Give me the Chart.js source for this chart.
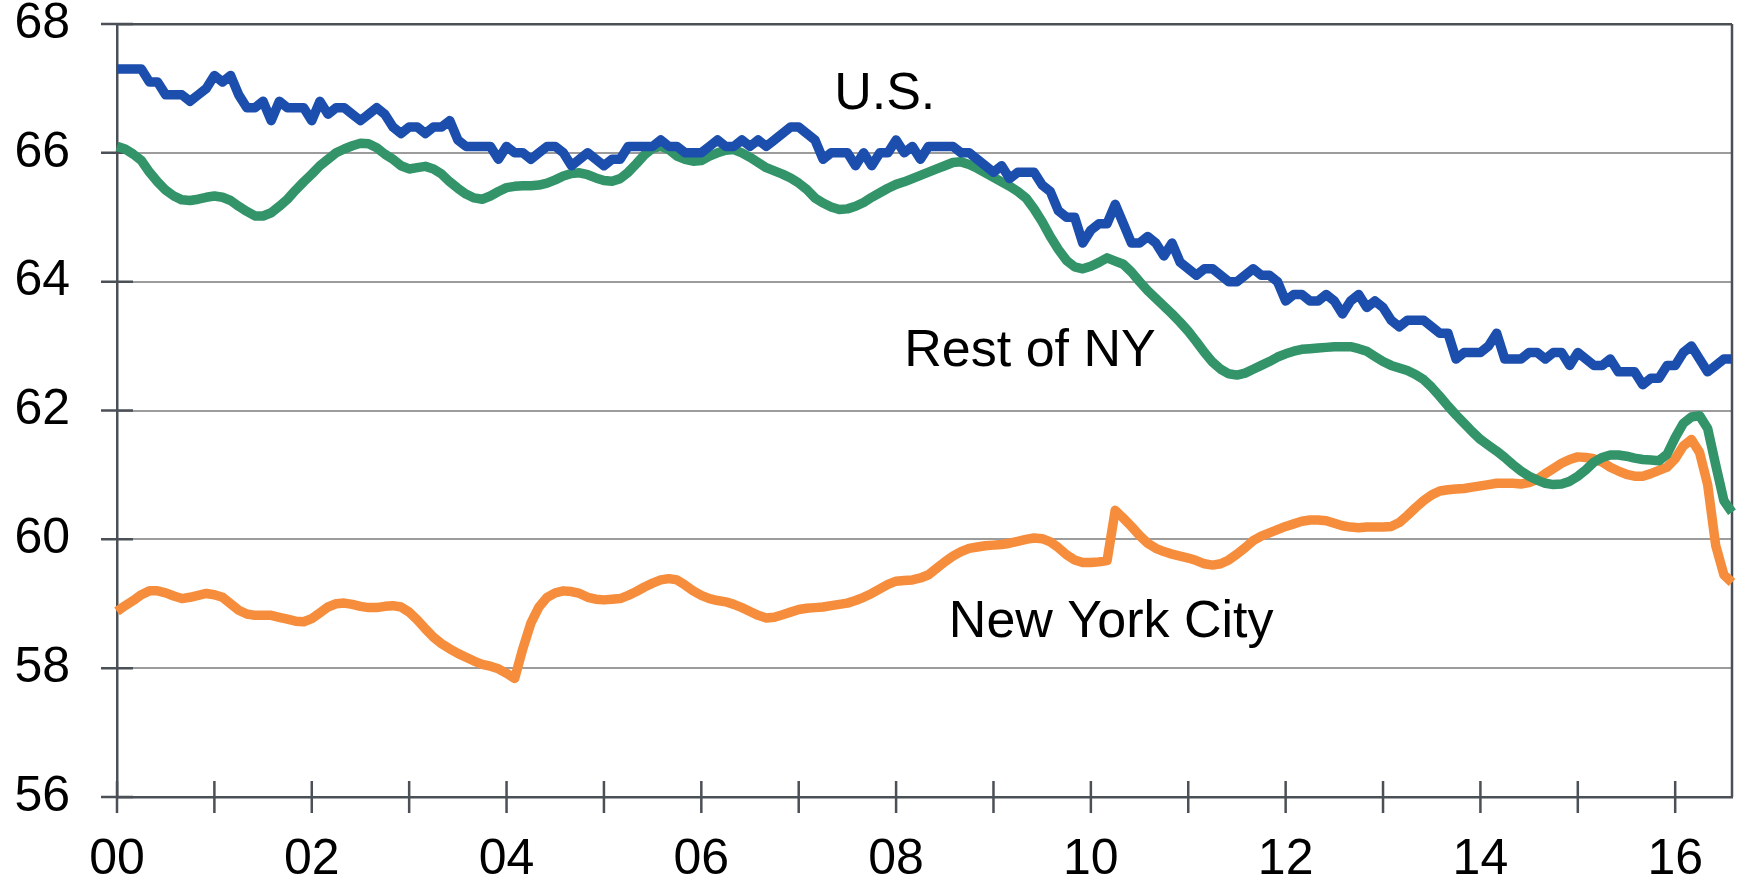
<!DOCTYPE html>
<html>
<head>
<meta charset="utf-8">
<title>Labor force participation</title>
<script src="https://cdn.jsdelivr.net/npm/chart.js@4/dist/chart.umd.min.js"></script>
<style>
  html, body { margin: 0; padding: 0; background: #fff; }
</style>
</head>
<body>
<canvas id="chart" width="1741" height="885"></canvas>
<script>
// monthly, Jan 2000 .. Aug 2016
const startYear = 2000;
const monthCount = 200;

const usRate = [
  67.3, 67.3, 67.3, 67.3, 67.1, 67.1, 66.9, 66.9, 66.9, 66.8, 66.9, 67.0,
  67.2, 67.1, 67.2, 66.9, 66.7, 66.7, 66.8, 66.5, 66.8, 66.7, 66.7, 66.7,
  66.5, 66.8, 66.6, 66.7, 66.7, 66.6, 66.5, 66.6, 66.7, 66.6, 66.4, 66.3,
  66.4, 66.4, 66.3, 66.4, 66.4, 66.5, 66.2, 66.1, 66.1, 66.1, 66.1, 65.9,
  66.1, 66.0, 66.0, 65.9, 66.0, 66.1, 66.1, 66.0, 65.8, 65.9, 66.0, 65.9,
  65.8, 65.9, 65.9, 66.1, 66.1, 66.1, 66.1, 66.2, 66.1, 66.1, 66.0, 66.0,
  66.0, 66.1, 66.2, 66.1, 66.1, 66.2, 66.1, 66.2, 66.1, 66.2, 66.3, 66.4,
  66.4, 66.3, 66.2, 65.9, 66.0, 66.0, 66.0, 65.8, 66.0, 65.8, 66.0, 66.0,
  66.2, 66.0, 66.1, 65.9, 66.1, 66.1, 66.1, 66.1, 66.0, 66.0, 65.9, 65.8,
  65.7, 65.8, 65.6, 65.7, 65.7, 65.7, 65.5, 65.4, 65.1, 65.0, 65.0, 64.6,
  64.8, 64.9, 64.9, 65.2, 64.9, 64.6, 64.6, 64.7, 64.6, 64.4, 64.6, 64.3,
  64.2, 64.1, 64.2, 64.2, 64.1, 64.0, 64.0, 64.1, 64.2, 64.1, 64.1, 64.0,
  63.7, 63.8, 63.8, 63.7, 63.7, 63.8, 63.7, 63.5, 63.7, 63.8, 63.6, 63.7,
  63.6, 63.4, 63.3, 63.4, 63.4, 63.4, 63.3, 63.2, 63.2, 62.8, 62.9, 62.9,
  62.9, 63.0, 63.2, 62.8, 62.8, 62.8, 62.9, 62.9, 62.8, 62.9, 62.9, 62.7,
  62.9, 62.8, 62.7, 62.7, 62.8, 62.6, 62.6, 62.6, 62.4, 62.5, 62.5, 62.7,
  62.7, 62.9, 63.0, 62.8, 62.6, 62.7, 62.8, 62.8
];

const restOfNY = [
  66.10, 66.06, 65.98, 65.88, 65.70, 65.55, 65.42, 65.33, 65.27, 65.26, 65.28, 65.31,
  65.33, 65.31, 65.26, 65.17, 65.09, 65.02, 65.02, 65.07, 65.17, 65.28, 65.42, 65.55,
  65.67, 65.80, 65.90, 66.00, 66.06, 66.11, 66.15, 66.14, 66.08, 65.98, 65.90, 65.80,
  65.75, 65.77, 65.79, 65.75, 65.67, 65.55, 65.45, 65.36, 65.30, 65.28, 65.33, 65.40,
  65.46, 65.48, 65.49, 65.49, 65.50, 65.53, 65.58, 65.64, 65.68, 65.69, 65.66, 65.61,
  65.57, 65.56, 65.60, 65.70, 65.83, 65.97, 66.07, 66.10, 66.05, 65.95, 65.90, 65.87,
  65.88, 65.95, 66.00, 66.04, 66.05, 66.00, 65.93, 65.85, 65.77, 65.72, 65.67, 65.61,
  65.53, 65.43, 65.30, 65.22, 65.16, 65.12, 65.13, 65.17, 65.23, 65.31, 65.38, 65.45,
  65.51, 65.55, 65.60, 65.65, 65.70, 65.75, 65.80, 65.85, 65.86, 65.82, 65.76, 65.69,
  65.62, 65.55, 65.48, 65.40, 65.30, 65.13, 64.93, 64.70, 64.50, 64.33, 64.23, 64.20,
  64.24, 64.30, 64.37, 64.32, 64.27, 64.15, 64.00, 63.86, 63.74, 63.62, 63.50, 63.37,
  63.23, 63.07, 62.90, 62.75, 62.64, 62.57, 62.55, 62.58, 62.64, 62.70, 62.76, 62.83,
  62.88, 62.92, 62.95, 62.96, 62.97, 62.98, 62.99, 62.99, 62.99, 62.96, 62.92, 62.84,
  62.76, 62.70, 62.66, 62.62, 62.56, 62.48, 62.36, 62.22, 62.07, 61.93, 61.80, 61.67,
  61.55, 61.46, 61.37, 61.27, 61.16, 61.06, 60.98, 60.92, 60.87, 60.85, 60.86, 60.90,
  60.98, 61.08, 61.20, 61.27, 61.31, 61.31, 61.29, 61.26, 61.24, 61.23, 61.22, 61.32,
  61.58, 61.80, 61.90, 61.92, 61.72, 61.15, 60.60, 60.42
];

const nyCity = [
  58.88, 58.97, 59.05, 59.14, 59.20, 59.20, 59.17, 59.12, 59.08, 59.10, 59.13, 59.16,
  59.14, 59.10, 59.00, 58.90, 58.84, 58.82, 58.82, 58.82, 58.79, 58.76, 58.73, 58.72,
  58.77, 58.86, 58.95, 59.00, 59.01, 58.99, 58.96, 58.94, 58.94, 58.96, 58.97, 58.95,
  58.87, 58.75, 58.61, 58.48, 58.38, 58.30, 58.23, 58.17, 58.11, 58.06, 58.03, 57.99,
  57.92, 57.84, 58.30, 58.70, 58.95, 59.10, 59.17, 59.20, 59.19, 59.16, 59.10, 59.07,
  59.06, 59.07, 59.08, 59.13, 59.19, 59.26, 59.32, 59.37, 59.39, 59.37, 59.29, 59.20,
  59.13, 59.08, 59.05, 59.03, 58.99, 58.94, 58.88, 58.82, 58.78, 58.79, 58.83, 58.87,
  58.91, 58.93, 58.94, 58.95, 58.97, 58.99, 59.01, 59.05, 59.10, 59.16, 59.23, 59.30,
  59.35, 59.36, 59.37, 59.40, 59.45, 59.55, 59.65, 59.74, 59.81, 59.86, 59.88, 59.90,
  59.91, 59.92, 59.94, 59.97, 60.00, 60.02, 60.01, 59.96, 59.87, 59.76, 59.68, 59.64,
  59.64, 59.65, 59.67, 60.45, 60.33, 60.20, 60.06, 59.94, 59.86, 59.81, 59.77, 59.74,
  59.71, 59.67, 59.62, 59.60, 59.62, 59.68, 59.77, 59.87, 59.98, 60.05, 60.10, 60.15,
  60.20, 60.24, 60.28, 60.30, 60.30, 60.29, 60.25, 60.21, 60.19, 60.18, 60.19, 60.19,
  60.19, 60.20, 60.26, 60.37, 60.49, 60.60, 60.69, 60.75, 60.77, 60.78, 60.79, 60.81,
  60.83, 60.85, 60.87, 60.87, 60.87, 60.86, 60.88, 60.93, 61.02, 61.10, 61.18, 61.24,
  61.28, 61.27, 61.25, 61.20, 61.12, 61.06, 61.01, 60.98, 60.98, 61.02, 61.07, 61.12,
  61.25, 61.45, 61.55, 61.35, 60.85, 59.90, 59.45, 59.33
];

const xTickLabels = ['00', '02', '04', '06', '08', '10', '12', '14', '16'];
const yTicks = [56, 58, 60, 62, 64, 66, 68];

// in-chart series names, placed at (month index, value)
const seriesNames = ['U.S.', 'Rest of NY', 'New York City'];
const nameAtMonth = [94.6, 112.5, 122.5];
const nameAtValue = [66.9, 62.91, 58.71];

const months = [];
for (let i = 0; i < monthCount; i++) {
  const yr = startYear + Math.floor(i / 12);
  months.push(yr + '-' + String(i % 12 + 1).padStart(2, '0'));
}

const FONT = '"Liberation Sans", Arial, Helvetica, sans-serif';
const AXIS = '#4b5056';
const GRID = '#9c9c9c';

const framePlugin = {
  id: 'frame',
  beforeDatasetsDraw(chart) {
    const { ctx, chartArea: a, scales: { x, y } } = chart;
    ctx.save();
    ctx.strokeStyle = AXIS;
    ctx.lineWidth = 2.5;
    ctx.beginPath();
    ctx.moveTo(a.right, a.top);
    ctx.lineTo(a.right, a.bottom);
    // a tick every year, crossing the axis
    for (let i = 0; i < months.length; i += 12) {
      const px = x.getPixelForValue(i);
      ctx.moveTo(px, a.bottom - 16);
      ctx.lineTo(px, a.bottom + 16);
    }
    yTicks.forEach(v => {
      const py = y.getPixelForValue(v);
      ctx.moveTo(a.left - 16, py);
      ctx.lineTo(a.left + 16, py);
    });
    ctx.stroke();
    ctx.restore();
  },
  afterDraw(chart) {
    const { ctx, scales: { x, y } } = chart;
    ctx.save();
    ctx.font = '52px ' + FONT;
    ctx.fillStyle = '#000';
    ctx.textAlign = 'center';
    ctx.textBaseline = 'middle';
    seriesNames.forEach((name, i) => {
      ctx.fillText(name, x.getPixelForValue(nameAtMonth[i]), y.getPixelForValue(nameAtValue[i]));
    });
    ctx.restore();
  }
};

const lineStyle = {
  pointRadius: 0,
  borderWidth: 9.5,
  borderJoinStyle: 'round',
  tension: 0,
  fill: false
};

new Chart(document.getElementById('chart'), {
  type: 'line',
  data: {
    labels: months,
    datasets: [
      { label: 'U.S.', data: usRate, borderColor: '#1c4ead', ...lineStyle },
      { label: 'Rest of NY', data: restOfNY, borderColor: '#33946a', ...lineStyle },
      { label: 'New York City', data: nyCity, borderColor: '#f68d3c', ...lineStyle }
    ]
  },
  options: {
    responsive: false,
    animation: false,
    events: [],
    layout: { padding: { top: 24, right: 9, left: 0, bottom: 0 } },
    plugins: {
      legend: { display: false },
      tooltip: { enabled: false }
    },
    scales: {
      x: {
        type: 'category',
        offset: false,
        grid: { display: true, drawOnChartArea: false, drawTicks: false, color: 'rgba(0,0,0,0)' },
        border: { display: true, color: AXIS, width: 2.5 },
        ticks: {
          autoSkip: false,
          maxRotation: 0,
          padding: 38,
          color: '#000',
          font: { family: FONT, size: 50, lineHeight: 1 },
          callback: (value, index) => (index % 24 === 0 ? xTickLabels[index / 24] : '')
        },
        afterFit: s => { s.height = 88; s.paddingLeft = 0; s.paddingRight = 0; }
      },
      y: {
        min: 56,
        max: 68,
        grid: {
          drawTicks: false,
          lineWidth: ctx => (ctx.tick && ctx.tick.value === 68 ? 2.5 : 2),
          color: ctx => (ctx.tick && ctx.tick.value === 68 ? AXIS : GRID)
        },
        border: { display: true, color: AXIS, width: 2.5 },
        ticks: {
          stepSize: 2,
          padding: 47,
          color: '#000',
          font: { family: FONT, size: 50, lineHeight: 1 }
        },
        afterFit: s => { s.width = 117; s.paddingTop = 0; s.paddingBottom = 0; }
      }
    }
  },
  plugins: [framePlugin]
});
</script>
</body>
</html>
